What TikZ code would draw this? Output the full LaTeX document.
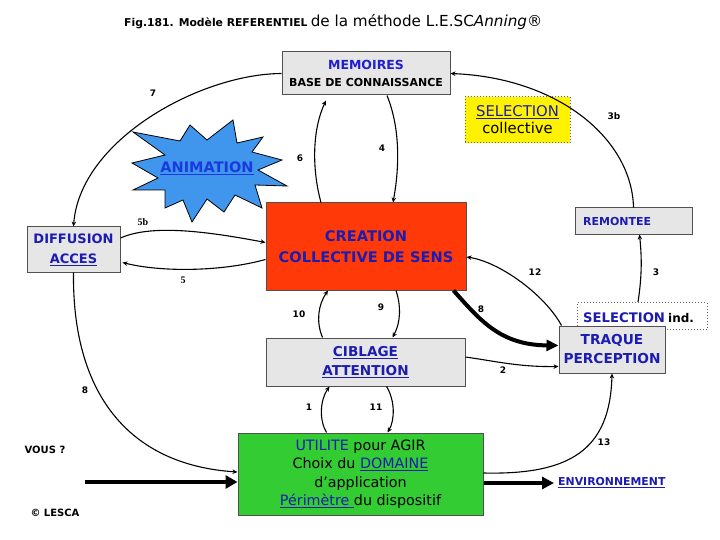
\documentclass[tikz,border=0pt]{standalone}
\usepackage{fontspec}
\setmainfont{DejaVu Sans}
\newfontfamily\serifb{Liberation Serif}
\usetikzlibrary{arrows.meta}
\definecolor{boxgray}{HTML}{E6E6E6}
\definecolor{boxline}{HTML}{505050}
\definecolor{dblue}{HTML}{1C1CB0}
\definecolor{mblue}{HTML}{2020D0}
\definecolor{redbox}{HTML}{FF3A08}
\definecolor{greenbox}{HTML}{33CC33}
\definecolor{starblue}{HTML}{3F96EC}
\definecolor{animblue}{HTML}{1A3AE0}
\newcommand{\ulx}[1]{\setbox0=\hbox{#1}\rlap{\rule[-2.4pt]{\wd0}{0.9pt}}\box0}
\newcommand{\fs}[2]{\fontsize{#1}{#2}\selectfont}
\tikzset{
  graybox/.style={draw=boxline, line width=1pt, fill=boxgray, inner sep=0pt, align=center},
  conn/.style={line width=1.1pt, -{Stealth[length=5pt,width=4.5pt]}},
  thickconn/.style={line width=4.5pt, -{Triangle[length=12pt,width=13pt]}},
  lbl/.style={font=\bfseries\fs{9}{10}, inner sep=0pt}
}
\begin{document}
\begin{tikzpicture}[x=1pt,y=-1pt]
\useasboundingbox (0,0) rectangle (720,540);
% title
\node[anchor=base west, inner sep=0pt] (title) at (124,27)
  {{\bfseries\fs{10.8}{12}Fig.181. Modèle REFERENTIEL} {\fs{15.2}{16}de la méthode L.E.SC\textit{Anning}®}};
% boxes
\node[graybox, minimum width=168pt, minimum height=43pt, font=\bfseries\fs{11}{16.5}] (mem) at (366,73.5)
  {{\color{mblue}\fs{12.5}{16}MEMOIRES}\\BASE DE CONNAISSANCE};
\node[draw=black!60, dotted, line width=1pt, fill=yellow, inner sep=0pt, align=center,
  minimum width=105pt, minimum height=46pt, font=\fs{14.8}{17}] (selc) at (517.5,120)
  {{\color{dblue}\ulx{SELECTION}}\\collective};
% star
\filldraw[fill=starblue, draw=black, line width=0.8pt]
  (133,132) -- (180,141) -- (190,125) -- (207,140) -- (233,120) -- (237,143) -- (263,137)
  -- (252,152) -- (282,160) -- (258,170) -- (287,186) -- (255,185) -- (262,208)
  -- (235,195) -- (224,212) -- (207,199) -- (192,222) -- (183,200) -- (165,208)
  -- (165,190) -- (133,190) -- (158,178) -- (132,163) -- (165,155) -- cycle;
\node[inner sep=0pt, font=\bfseries\fs{14.5}{16}, text=animblue] (anim) at (207,168) {\ulx{ANIMATION}};
\node[graybox, minimum width=93pt, minimum height=45pt, text=dblue, font=\bfseries\fs{13}{20}] (diff) at (73.5,249.5)
  {DIFFUSION\\\ulx{ACCES}};
\node[draw=boxline, line width=1pt, fill=redbox, inner sep=0pt, align=center,
  minimum width=200pt, minimum height=87pt, text=dblue, font=\bfseries\fs{14.6}{21}] (crea) at (366,246.5)
  {CREATION\\COLLECTIVE DE SENS};
\node[graybox, minimum width=117pt, minimum height=26pt] (rem) at (633.5,221) {};
\node[anchor=west, inner sep=0pt, text=dblue, font=\bfseries\fs{11}{13}] (remt) at (583,221) {REMONTEE};
\node[draw=black!60, dotted, line width=1pt, fill=white, minimum width=130pt, minimum height=27pt,
  inner sep=0pt] (seli) at (642,316) {};
\node[anchor=base west, inner sep=0pt] (selit) at (583,322)
  {{\bfseries\fs{13.2}{15}\color{dblue}SELECTION} {\bfseries\fs{12}{14}ind.}};
\node[graybox, minimum width=106pt, minimum height=47pt, text=dblue, font=\bfseries\fs{13.7}{19}] (traq) at (612,349.5)
  {TRAQUE\\PERCEPTION};
\node[graybox, minimum width=199pt, minimum height=48pt, text=dblue, font=\bfseries\fs{13.6}{19}] (cib) at (365.5,362)
  {\ulx{CIBLAGE}\\\ulx{ATTENTION}};
\node[draw=boxline, line width=1pt, fill=greenbox, inner sep=0pt, align=center,
  minimum width=245pt, minimum height=82pt, font=\fs{14.3}{18.5}] (uti) at (360.5,474)
  {{\color{dblue}UTILITE} pour AGIR\\Choix du {\color{dblue}\ulx{DOMAINE}}\\d'application\\{\color{dblue}\ulx{Périmètre\ }}du dispositif};
\node[anchor=west, inner sep=0pt, text=dblue, font=\bfseries\fs{10.9}{12}] (env) at (558,483) {\ulx{ENVIRONNEMENT}};
\node[inner sep=0pt, font=\bfseries\fs{10}{12}] (vous) at (45,450) {VOUS ?};
\node[inner sep=0pt, font=\bfseries\fs{10}{12}] (lesca) at (55,513) {© LESCA};
\coordinate (vousstart) at (85,482);
% labels
\node[lbl] (l7) at (153,93) {7};
\node[lbl] (l3b) at (614,116) {3b};
\node[lbl] (l6) at (300,158) {6};
\node[lbl] (l4) at (382,148) {4};
\node[inner sep=0pt, font=\serifb\bfseries\fs{10}{12}] (l5b) at (143,222) {5b};
\node[inner sep=0pt, font=\serifb\bfseries\fs{10}{12}] (l5) at (183,280) {5};
\node[lbl] (l12) at (535,272) {12};
\node[lbl] (l3) at (656,272) {3};
\node[lbl] (l8a) at (481,309) {8};
\node[lbl] (l10) at (299,314) {10};
\node[lbl] (l9) at (381,307) {9};
\node[lbl] (l2) at (503,370) {2};
\node[lbl] (l8b) at (85,390) {8};
\node[lbl] (l1) at (309,407) {1};
\node[lbl] (l11) at (376,407) {11};
\node[lbl] (l13) at (604,442) {13};
% connectors
\draw[conn] (mem.west) .. controls (200,74) and (80,140) .. (diff.north);
\draw[conn] (rem.north) .. controls (632,140) and (560,78) .. (mem.east);
\draw[conn] ([xshift=-45pt]crea.north) .. controls (312,170) and (312,130) .. ([xshift=-40pt,yshift=-5pt]mem.south);
\draw[conn] ([xshift=21pt]mem.south) .. controls (401,130) and (399,170) .. ([xshift=27pt]crea.north);
\draw[conn] ([yshift=11.5pt]diff.east) .. controls (150,225) and (200,230) .. ([yshift=4pt]crea.west);
\draw[conn] ([yshift=-13pt]crea.west) .. controls (220,272) and (160,272) .. ([yshift=-13pt,xshift=2pt]diff.east);
\draw[conn] (diff.south) .. controls (72,395) and (130,465) .. ([yshift=2pt]uti.west);
\draw[thickconn] (vousstart) -- ([yshift=-8pt]uti.west);
\draw[conn] ([xshift=-43pt]cib.north) .. controls (316,322) and (318,305) .. ([xshift=-38pt]crea.south);
\draw[conn] ([xshift=30pt]crea.south) .. controls (401,305) and (401,322) .. ([xshift=27pt]cib.north);
\draw[conn] ([xshift=-34pt]uti.north) .. controls (319,420) and (320,400) .. ([xshift=-36pt]cib.south);
\draw[conn] ([xshift=21pt]cib.south) .. controls (395,400) and (395,420) .. ([xshift=27pt]uti.north);
\draw[conn] ([yshift=5pt]cib.east) .. controls (500,362) and (520,367) .. ([yshift=-17pt]traq.west);
\draw[line width=4pt, -{Triangle[length=12pt,width=11pt]}] ([xshift=-13pt]crea.south east) .. controls (480,320) and (500,345) .. ([yshift=4pt]traq.west);
\draw[conn] ([xshift=3pt]traq.north west) .. controls (545,295) and (500,262) .. ([yshift=-10.5pt]crea.east);
\draw[conn] ([xshift=-4pt]seli.north) .. controls (643,270) and (641,250) .. ([xshift=6pt]rem.south);
\draw[conn] ([yshift=1pt]uti.east) .. controls (570,475) and (610,450) .. (traq.south);
\draw[line width=4.5pt, -{Triangle[length=12pt,width=12pt]}] ([yshift=-9pt]uti.east) -- ([xshift=-4pt]env.west);
\end{tikzpicture}
\end{document}
